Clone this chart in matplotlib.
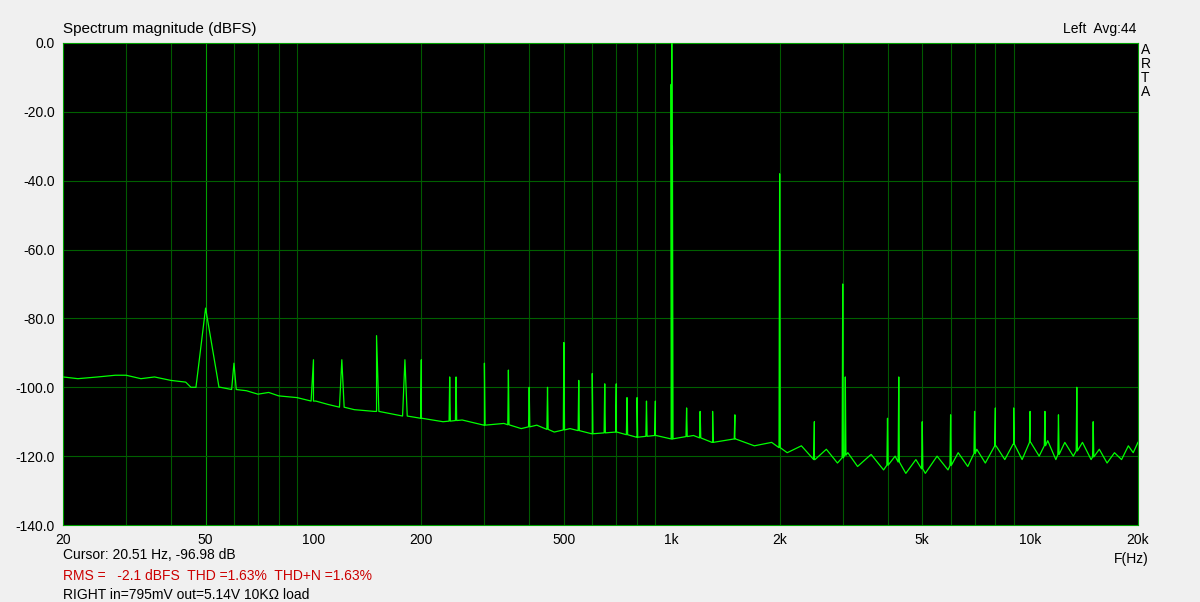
import matplotlib
matplotlib.use("Agg")
import matplotlib.pyplot as plt
import numpy as np
from matplotlib.ticker import FixedLocator, NullFormatter

plt.rcParams['font.family'] = ['Liberation Sans', 'DejaVu Sans']

# noise floor (freq Hz, dBFS)
floor_f = [20, 22, 25, 28, 30, 33, 36, 40, 44, 47, 55, 58, 65, 70, 75, 80, 90, 100, 110, 130, 150, 170,
           200, 230, 260, 300, 340, 380, 420, 470, 520, 600, 700, 800, 900, 1000, 1150, 1300, 1500, 1700,
           1900, 2100, 2300, 2500, 2700, 2900, 3100, 3300, 3600, 3900, 4200, 4500, 4800, 5100, 5500, 5900,
           6300, 6700, 7100, 7500, 8000, 8500, 9000, 9500, 10000, 10600, 11200, 11800, 12500, 13200,
           14000, 14800, 15600, 16400, 17200, 18000, 18800, 19400, 20000]
floor_db = [-97, -97.5, -97, -96.5, -96.5, -97.5, -97, -98, -98.5, -100, -100, -100.5, -101, -102, -101.5, -102.5, -103, -104, -105, -106.5, -107, -108,
            -109, -110, -109.5, -111, -110.5, -112, -111, -113, -112, -113.5, -113, -114.5, -114, -115, -114, -116, -115, -117,
            -116, -119, -117, -121, -118, -122, -119, -123, -119.5, -124, -120, -125, -121, -125, -120, -124, -119,
            -123, -118, -122, -117, -121, -116.5, -121, -116, -120, -115.5, -121, -116, -120, -116, -121, -118, -122, -119, -121, -117, -119, -116]

# harmonic / spurious peaks
peak_f = [50, 60, 100, 120, 150, 180, 200, 240, 250, 300, 350, 400, 450, 500, 550, 600, 650, 700, 750, 800,
          850, 900, 996, 1000, 1004, 1100, 1200, 1300, 1500, 2000, 2500, 3000, 3050, 4000, 4300, 5000, 6000,
          7000, 8000, 9000, 10000, 11000, 12000, 13500, 15000]
peak_db = [-77, -93, -92, -92, -85, -92, -92, -97, -97, -93, -95, -100, -100, -87, -98, -96, -99, -99, -103, -103,
           -104, -104, -12, 0, -30, -106, -107, -107, -108, -38, -110, -70, -97, -109, -97, -110, -108,
           -107, -106, -106, -107, -107, -108, -100, -110]

f = np.array(floor_f, float)
d = np.array(floor_db, float)
xs, ys = list(f), list(d)
for pf, pdb in zip(peak_f, peak_db):
    base = np.interp(np.log10(pf), np.log10(f), d)
    w = 0.09 if pf == 50 else 0.015 if pf < 200 else 0.004
    xs += [pf * (1 - w), pf, pf * (1 + w)]
    ys += [base, pdb, base]
order = np.argsort(xs)
xs = np.array(xs)[order]; ys = np.array(ys)[order]

fig = plt.figure(figsize=(12, 6.02), dpi=100, facecolor="#f0f0f0")
ax = fig.add_axes([0.0525, 0.1279, 0.8958, 0.8007])
ax.set_facecolor("black")
ax.set_xscale("log")
ax.set_xlim(20, 20000)
ax.set_ylim(-140, 0)
minors = [v * m for m in (10, 100, 1000) for v in range(2, 10)] + [20, 30, 40, 50, 60, 70, 80, 90]
for v in sorted(set(minors)):
    if 20 < v < 20000:
        ax.axvline(v, color="#005a00" if v not in (50, 100, 1000, 10000) else "#00a000", lw=0.8, zorder=1)
for y in range(-120, 0, 20):
    ax.axhline(y, color="#006000", lw=0.8, zorder=1)
ax.plot(xs, ys, color="#00ff00", lw=0.9, zorder=3)

ax.xaxis.set_major_locator(FixedLocator([20, 50, 100, 200, 500, 1000, 2000, 5000, 10000, 20000]))
ax.set_xticklabels(["20", "50", "100", "200", "500", "1k", "2k", "5k", "10k", "20k"])
ax.xaxis.set_minor_formatter(NullFormatter())
ax.tick_params(axis="x", which="minor", length=0)
ax.set_yticks(range(-140, 1, 20))
ax.set_yticklabels([f"{v:.1f}" for v in range(-140, 1, 20)])
ax.tick_params(labelsize=10, length=0, pad=6)
for s in ax.spines.values():
    s.set_color("#00a000")

fig.text(0.0525, 0.94, "Spectrum magnitude (dBFS)", fontsize=11, va="bottom")
fig.text(0.947, 0.94, "Left  Avg:44", fontsize=10, va="bottom", ha="right")
for i, c in enumerate("ARTA"):
    fig.text(0.951, 0.917 - i * 0.023, c, fontsize=10, va="center")
fig.text(0.957, 0.064, "F(Hz)", fontsize=10, ha="right")
fig.text(0.0525, 0.072, "Cursor: 20.51 Hz, -96.98 dB", fontsize=10)
fig.text(0.0525, 0.037, "RMS =   -2.1 dBFS  THD =1.63%  THD+N =1.63%", fontsize=10, color="#cc0000")
fig.text(0.0525, 0.005, "RIGHT in=795mV out=5.14V 10KΩ load", fontsize=10)
fig.savefig("out.png", dpi=100, facecolor=fig.get_facecolor())
